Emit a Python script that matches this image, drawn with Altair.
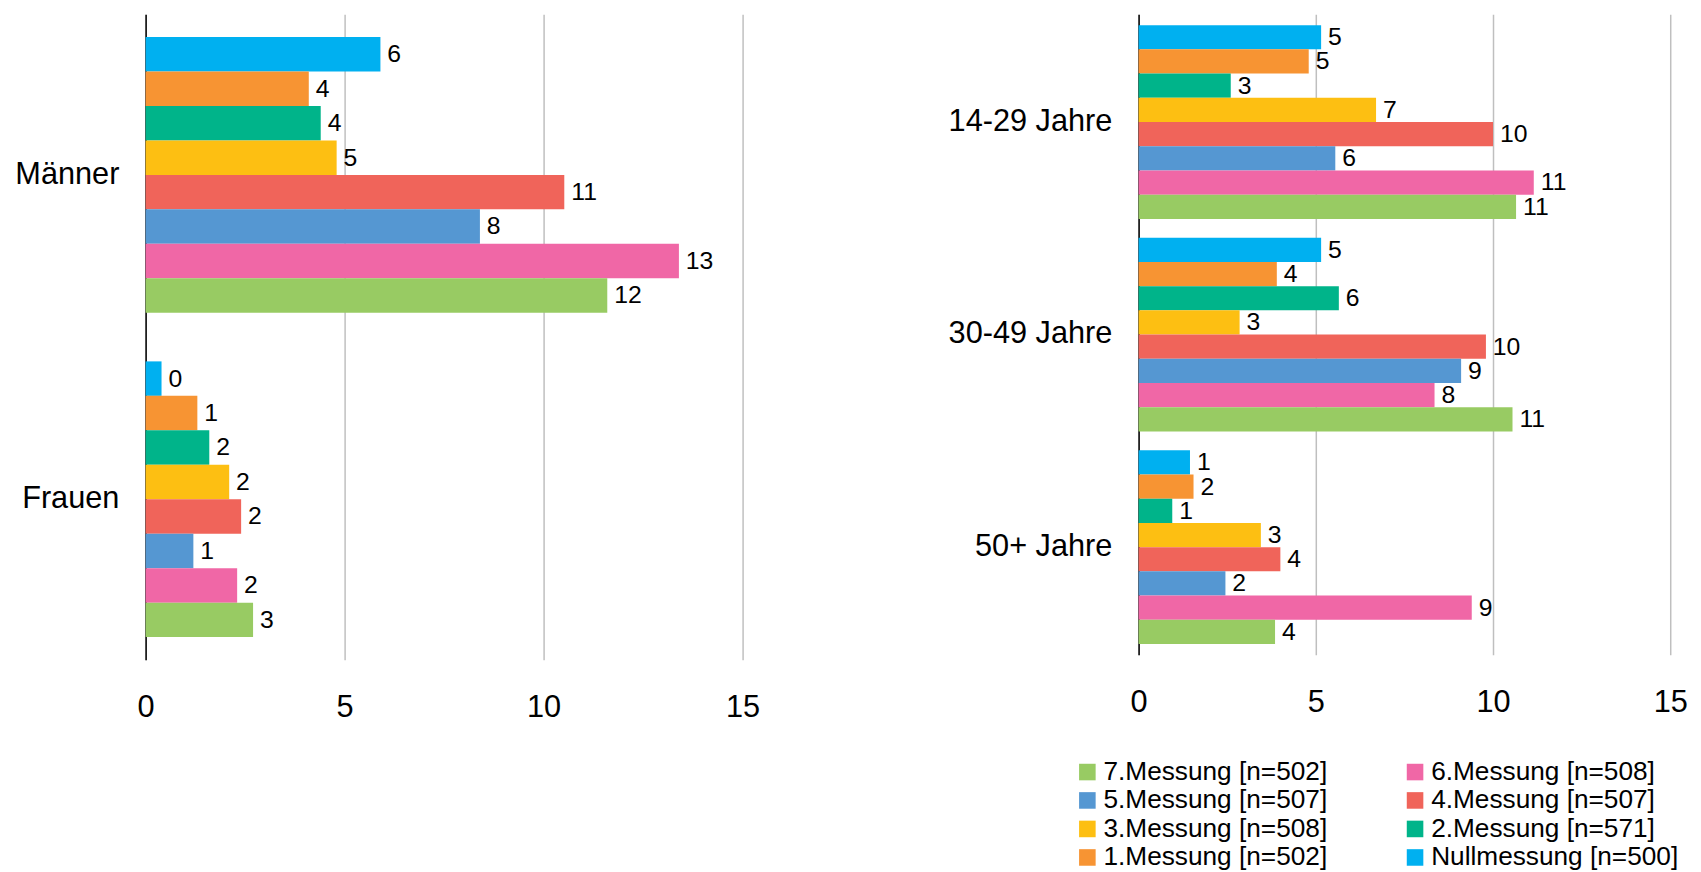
import altair as alt
import pandas as pd

# Serien (Reihenfolge der Balken von oben nach unten)
messungen = ["Nullmessung [n=500]", "1.Messung [n=502]", "2.Messung [n=571]",
             "3.Messung [n=508]", "4.Messung [n=507]", "5.Messung [n=507]",
             "6.Messung [n=508]", "7.Messung [n=502]"]
farben = ["#00B0F0", "#F79433", "#00B48A", "#FDBF12",
          "#F0645A", "#5597D2", "#F067A6", "#98CB63"]

# Linkes Panel: Geschlecht
geschlecht = ["Männer", "Frauen"]
maenner = [5.9, 4.1, 4.4, 4.8, 10.52, 8.4, 13.4, 11.6]
frauen = [0.4, 1.3, 1.6, 2.1, 2.4, 1.2, 2.3, 2.7]

# Rechtes Panel: Alter
alter = ["14-29 Jahre", "30-49 Jahre", "50+ Jahre"]
a1429 = [5.15, 4.8, 2.6, 6.7, 10.0, 5.55, 11.15, 10.65]
a3049 = [5.15, 3.9, 5.65, 2.85, 9.8, 9.1, 8.35, 10.55]
a50 = [1.45, 1.55, 0.95, 3.45, 4.0, 2.45, 9.4, 3.85]

x_ticks = [0, 5, 10, 15]

FONT = "Liberation Sans"

legend_order = messungen[::-1]
legend_colors = farben[::-1]


def make_df(cats, series):
    rows = []
    for c, vals in zip(cats, series):
        for m, v in zip(messungen, vals):
            rows.append({"Gruppe": c, "Messung": m, "Wert": v})
    return pd.DataFrame(rows)


df_left = make_df(geschlecht, [maenner, frauen])
df_right = make_df(alter, [a1429, a3049, a50])

color_enc = alt.Color(
    "Messung:N",
    scale=alt.Scale(domain=legend_order, range=legend_colors),
    legend=alt.Legend(
        title=None, orient="none", legendX=938, legendY=752,
        direction="horizontal", columns=2, symbolType="square",
        symbolSize=280, symbolStrokeWidth=0,
        labelFontSize=26.5, labelFont=FONT, labelColor="black", labelLimit=500,
        columnPadding=75, rowPadding=1.8, labelOffset=3,
    ),
)


def panel(df, cats, width, height, pi, po):
    base = alt.Chart(df).encode(
        y=alt.Y("Gruppe:N", sort=cats,
                scale=alt.Scale(paddingInner=pi, paddingOuter=po),
                axis=alt.Axis(title=None, labelFontSize=31, labelFont=FONT,
                              labelColor="black", labelPadding=27,
                              domainColor="black", domainWidth=1.5,
                              ticks=False, grid=False)),
        yOffset=alt.YOffset("Messung:N", sort=messungen,
                            scale=alt.Scale(paddingInner=0, paddingOuter=0)),
        x=alt.X("Wert:Q", scale=alt.Scale(domain=[0, 15], nice=False),
                axis=alt.Axis(values=x_ticks, title=None, grid=True,
                              gridColor="#BFBFBF", gridWidth=1.5,
                              domain=False, ticks=False, tickSize=0,
                              labelFontSize=31, labelFont=FONT,
                              labelColor="black", labelPadding=33,
                              labelFlush=False, format="d")),
    )
    bars = base.mark_bar(strokeWidth=0).encode(color=color_enc)
    text = base.mark_text(align="left", baseline="middle", dx=7,
                          fontSize=25, font=FONT, color="black").encode(
        text=alt.Text("Wert:Q", format=".0f"))
    return alt.layer(bars, text).properties(width=width, height=height)


left = panel(df_left, geschlecht, 603, 652, 0.15, 0.07)
right = panel(df_right, alter, 537, 647, 0.0885, 0.051)

chart = alt.hconcat(left, right, spacing=189).resolve_scale(
    y="independent", yOffset="independent", x="independent", color="shared"
).properties(
    padding={"left": 6, "top": 2, "right": 5, "bottom": 0}
).configure(font=FONT).configure_view(strokeWidth=0, stroke="transparent")

chart.save("out.html", embed_options={"renderer": "svg", "actions": False})
